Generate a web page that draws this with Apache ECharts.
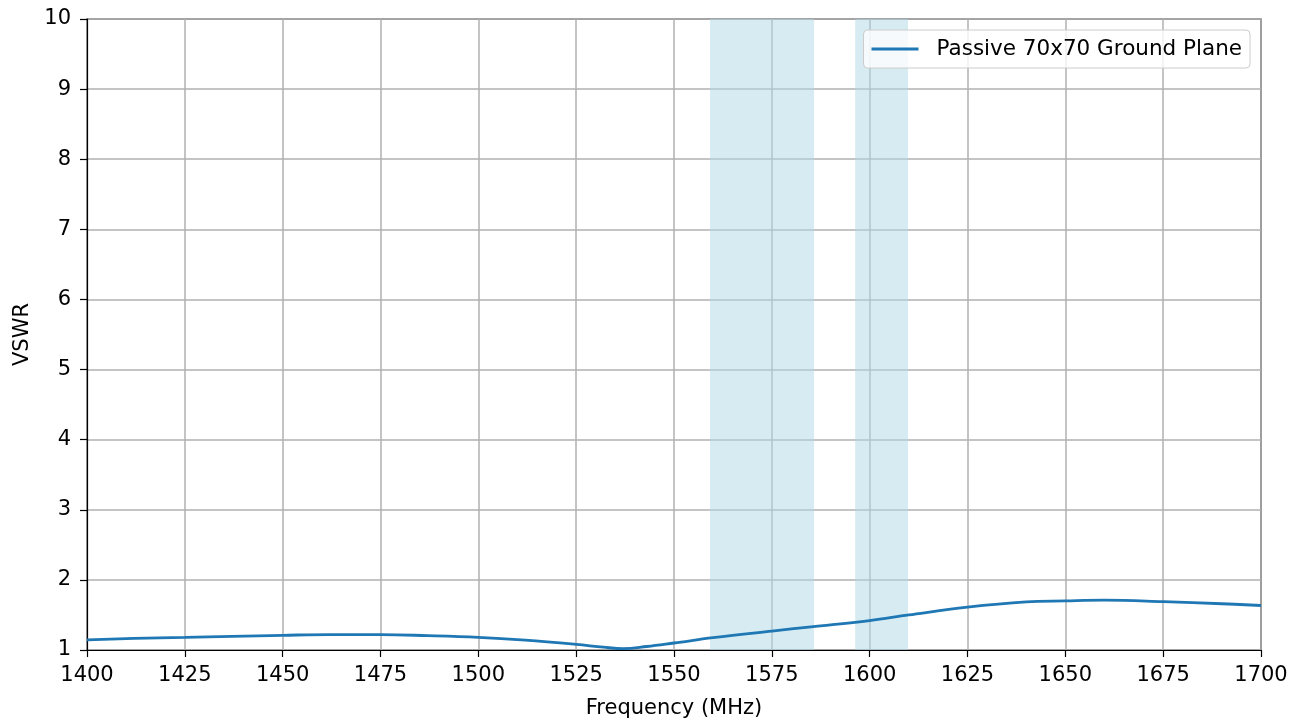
<!DOCTYPE html>
<html><head><meta charset="utf-8">
<script src="https://cdn.jsdelivr.net/npm/echarts@6/dist/echarts.min.js"></script>
<style>html,body{margin:0;padding:0;background:#fff}#c{width:1309px;height:724px}</style>
</head><body><div id="c"></div>
<script>
const freq = [1400,1412,1425,1437,1450,1462,1475,1487,1500,1512,1525,1532,1537,1543,1550,1560,1575,1585,1600,1610,1625,1640,1650,1660,1675,1690,1700];
const vswr = [1.145,1.165,1.18,1.195,1.21,1.22,1.22,1.205,1.18,1.14,1.08,1.04,1.02,1.05,1.1,1.175,1.27,1.33,1.42,1.5,1.61,1.685,1.70,1.71,1.69,1.66,1.635];
const bands = [[1559.2,1585.8],[1596.3,1609.8]];
const xTicks = {min:1400,max:1700,step:25};
const yTicks = {min:1,max:10,step:1};
const seriesName = 'Passive 70x70 Ground Plane';

const font = 'DejaVu Sans';
const chart = echarts.init(document.getElementById('c'));
chart.setOption({
  animation:false,
  grid:{left:87,right:48,top:19,bottom:72,show:true,borderColor:'#000',borderWidth:1.2,backgroundColor:'transparent'},
  legend:{
    right:59, top:30, orient:'horizontal',
    data:[{name:seriesName, icon:'path://M0,0 L47,0 L47,3 L0,3 Z'}],
    itemWidth:47, itemHeight:3, itemGap:10,
    padding:[8,8,8,8],
    backgroundColor:'rgba(255,255,255,0.8)', borderColor:'#cccccc', borderWidth:1, borderRadius:4,
    textStyle:{fontFamily:font,fontSize:21.5,color:'#000',padding:[0,0,0,13]}
  },
  xAxis:{type:'value',min:xTicks.min,max:xTicks.max,interval:xTicks.step,
    name:'Frequency (MHz)',nameLocation:'middle',nameGap:48,
    nameTextStyle:{fontFamily:font,fontSize:21,color:'#000'},
    axisLine:{show:true,lineStyle:{color:'#000',width:1.2}},
    axisTick:{show:true,length:7,inside:false,lineStyle:{color:'#000',width:1.2}},
    axisLabel:{fontFamily:font,fontSize:21,color:'#000',margin:15,formatter:v=>String(v)},
    splitLine:{show:true,lineStyle:{color:'#b0b0b0',width:1.5}}
  },
  yAxis:{type:'value',min:yTicks.min,max:yTicks.max,interval:yTicks.step,
    name:'VSWR',nameLocation:'middle',nameGap:54,nameRotate:90,
    nameTextStyle:{fontFamily:font,fontSize:21,color:'#000'},
    axisLine:{show:true,lineStyle:{color:'#000',width:1.2}},
    axisTick:{show:true,length:7,inside:false,lineStyle:{color:'#000',width:1.2}},
    axisLabel:{fontFamily:font,fontSize:21,color:'#000',margin:16,formatter:v=>String(v)},
    splitLine:{show:true,lineStyle:{color:'#b0b0b0',width:1.5}}
  },
  series:[{
    name:seriesName,type:'line',smooth:0.4,showSymbol:false,
    data:freq.map((f,i)=>[f,vswr[i]]),
    lineStyle:{color:'#1f77b4',width:2.8},itemStyle:{color:'#1f77b4'},
    z:3,
    markArea:{silent:true,itemStyle:{color:'rgba(173,216,230,0.5)'},
      data:bands.map(b=>[{xAxis:b[0]},{xAxis:b[1]}])}
  }]
});
</script></body></html>
